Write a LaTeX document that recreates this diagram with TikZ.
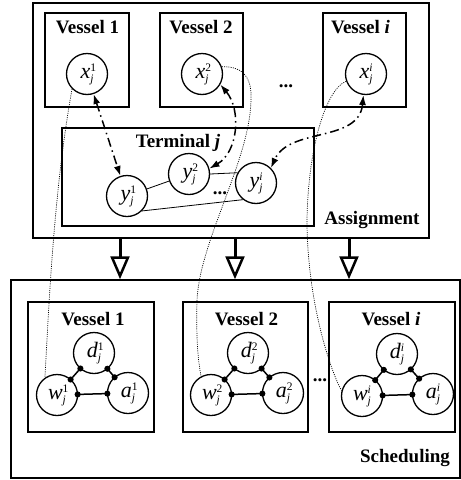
\documentclass[tikz,border=0pt]{standalone}
\usepackage{fontspec}
\setmainfont{Liberation Serif}
\usetikzlibrary{arrows.meta}
\newcommand\mv[3]{\textit{#1}\rlap{\raisebox{7.5pt}{\fontsize{11.5}{11.5}\selectfont #3}}\raisebox{-3.5pt}{\fontsize{11.5}{11.5}\selectfont\textit{#2}}\hspace{1pt}}
\begin{document}
\begin{tikzpicture}[x=1pt,y=-1pt,
 box/.style={draw, line width=1.8pt, inner sep=0},
 lbl/.style={font=\fontsize{19}{22}\selectfont\bfseries, inner sep=0},
 var/.style={draw, circle, line width=1.3pt, minimum size=41pt, inner sep=0, font=\fontsize{22}{24}\selectfont},
 thinline/.style={line width=0.8pt},
 dda/.style={line width=1.5pt, dash pattern=on 9pt off 4pt on 1.5pt off 4pt, {Latex[length=10pt,width=7pt]}-{Latex[length=10pt,width=7pt]}},
 dotted curve/.style={line width=0.7pt, dash pattern=on 1pt off 1.2pt},
 link/.style={line width=1.5pt, {Circle[length=6pt]}-{Circle[length=6pt]}, shorten <=-3.5pt, shorten >=-3.5pt},
 big/.style={line width=3pt, -{Triangle[open, length=23pt, width=19pt, line width=2.5pt]}},
]
\useasboundingbox (0,0) rectangle (461,480);
% outer boxes
\node[box, minimum width=396pt, minimum height=235pt] (assign) at (231,120.5) {};
\node[box, line width=1.5pt, minimum width=449pt, minimum height=198pt] (sched) at (235.5,379) {};
% top vessels
\node[box, minimum width=84pt, minimum height=94pt] (tv1) at (87,60) {};
\node[box, minimum width=83pt, minimum height=94pt] (tv2) at (201.5,60) {};
\node[box, minimum width=83pt, minimum height=94pt] (tvi) at (364.5,60) {};
\node[box, minimum width=252pt, minimum height=98pt] (term) at (188,177) {};
% bottom vessels
\node[box, minimum width=126pt, minimum height=130pt] (bv1) at (91,367) {};
\node[box, minimum width=125pt, minimum height=130pt] (bv2) at (245.5,367) {};
\node[box, minimum width=126pt, minimum height=130pt] (bvi) at (392,367) {};
% labels
\node[lbl, anchor=base] (lt1) at (87.5,33) {Vessel 1};
\node[lbl, anchor=base] (lt2) at (201,33) {Vessel 2};
\node[lbl, anchor=base] (lti) at (360.5,33) {Vessel \textit{i}};
\node[lbl, anchor=base] (lterm) at (178,147) {Terminal \textit{j}};
\node[lbl, anchor=base] (lassign) at (372,224) {Assignment};
\node[lbl, anchor=base] (lb1) at (93,325) {Vessel 1};
\node[lbl, anchor=base] (lb2) at (246.5,325) {Vessel 2};
\node[lbl, anchor=base] (lbi) at (391,325) {Vessel \textit{i}};
\node[lbl, anchor=base] (lsched) at (405,462) {Scheduling};
\node[lbl] (e1) at (286,86) {...};
\node[lbl] (e2) at (220,193) {...};
\node[lbl] (e3) at (320,380) {...};
% variables
\node[var] (x1) at (87,74) {\mv{x}{j}{1}};
\node[var] (x2) at (202,74) {\mv{x}{j}{2}};
\node[var] (xi) at (366,74) {\mv{x}{j}{\textit{i}}};
\node[var] (y1) at (127,196) {\mv{y}{j}{1}};
\node[var] (y2) at (189,174) {\mv{y}{j}{2}};
\node[var] (yi) at (256,183) {\mv{y}{j}{\textit{i}}};
\node[var] (d1) at (94,353) {\mv{d}{j}{1}};
\node[var] (w1) at (57,395) {\mv{w}{j}{1}};
\node[var] (a1) at (128,393) {\mv{a}{j}{1}};
\node[var] (d2) at (248,353) {\mv{d}{j}{2}};
\node[var] (w2) at (211,395) {\mv{w}{j}{2}};
\node[var] (a2) at (283,393) {\mv{a}{j}{2}};
\node[var] (di) at (397,354) {\mv{d}{j}{\textit{i}}};
\node[var] (wi) at (362,396) {\mv{w}{j}{\textit{i}}};
\node[var] (ai) at (433,394) {\mv{a}{j}{\textit{i}}};
% terminal links
\draw[thinline] (y1) -- (y2);
\draw[thinline] (y2.east) -- (yi.151);
\draw[thinline] (y1.-45) -- (yi.232);
% scheduling links
\foreach \k in {1,2,i} {
  \draw[link] (w\k) -- (d\k);
  \draw[link] (d\k) -- (a\k);
  \draw[link] (w\k) -- (a\k);
}
% dash-dot assignment arrows
\draw[dda] (x1) -- (y1);
\draw[dda] (x2.-30) to[out=-50,in=30] (y2.15);
\draw[dda] (xi.263) .. controls (359,143) and (289,127) .. (yi.45);
% dotted correspondences
\draw[dotted curve] (x1.225) .. controls (52,200) and (48,330) .. (w1.125);
\draw[dotted curve] (x2.20) .. controls (245,66) and (252,80) .. (251,100)
   .. controls (250,160) and (200,240) .. (197,300)
   .. controls (196,340) and (198,360) .. (w2.118);
\draw[dotted curve] (xi.200) .. controls (325,90) and (308,150) .. (307,220)
   .. controls (307,300) and (330,370) .. (wi.165);
% big arrows
\coordinate (t1) at (120,238);
\coordinate (t2) at (235,238);
\coordinate (t3) at (349,238);
\foreach \t in {t1,t2,t3} \draw[big] (\t) -- (\t |- sched.north);
\end{tikzpicture}
\end{document}
